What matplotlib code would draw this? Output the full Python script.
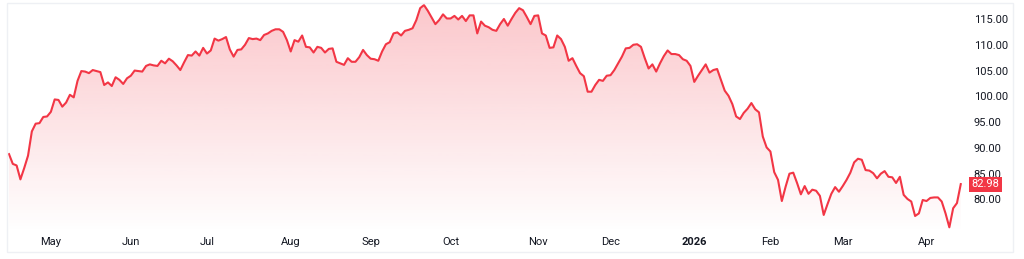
import numpy as np
import matplotlib
matplotlib.use("Agg")
import matplotlib.pyplot as plt
from matplotlib.patches import Polygon, Rectangle

# daily closes (Apr 2025 -> Apr 2026)
prices = [
    88.8, 86.9, 86.6, 83.9, 86.1, 88.5, 93.2, 94.7, 94.8, 96.0,
    96.1, 97.0, 99.4, 99.3, 98.0, 98.8, 100.3, 99.8, 103.0, 104.9,
    104.8, 104.5, 105.1, 104.9, 104.7, 102.2, 102.7, 102.0, 103.7, 103.2,
    102.4, 103.5, 104.0, 105.0, 104.9, 104.8, 105.9,
    106.2, 106.0, 105.9, 106.9, 106.4, 107.3, 106.8, 106.0, 105.1, 106.6,
    108.0, 107.9, 108.7, 107.9, 109.4, 108.3, 108.9, 111.2, 110.8, 111.1,
    111.5, 109.1, 107.7, 109.0, 109.1, 110.0, 111.3, 111.1, 111.2, 110.9,
    111.9, 112.2, 112.7, 113.0, 113.0, 112.5, 110.9, 108.7,
    110.9, 110.6, 111.8, 109.6, 109.5, 108.5, 109.6, 109.4, 108.5, 109.2,
    109.3, 106.7, 106.4, 106.1, 107.4, 106.7, 106.7, 107.6, 109.0, 108.0,
    107.3, 107.2, 106.9, 108.7, 110.1, 110.5, 112.2, 112.4, 111.8, 112.7,
    112.9, 113.2, 114.8, 117.1, 117.7, 116.6, 115.3, 114.0,
    114.8, 115.9, 115.1, 115.1, 115.6, 114.9, 115.6, 114.6, 115.7, 115.7,
    112.2, 114.5, 113.7, 113.4, 112.9, 112.7, 114.0, 115.0, 113.7, 115.0,
    116.2, 117.1, 116.7, 115.4, 114.0, 115.6, 115.7, 112.2, 111.8, 109.4,
    109.5, 111.8, 111.1, 109.6, 106.9, 107.4, 105.9, 104.5,
    103.9, 100.9, 100.9, 102.2, 103.2, 103.0, 104.0, 104.1, 105.1, 106.4,
    107.7, 109.3, 109.4, 110.0, 110.1, 109.6, 107.4, 105.4, 106.2, 104.8,
    106.4, 107.8, 108.9, 108.2, 108.2, 108.0, 107.2, 106.9, 105.9, 102.8,
    104.0, 105.1, 106.2, 104.6, 105.1, 105.3, 103.2, 101.1,
    100.1, 98.5, 96.1, 95.6, 96.8, 97.6, 98.7, 97.5, 96.9, 92.2,
    90.1, 89.3, 85.3, 83.8, 79.7, 82.5, 85.0, 85.2, 83.2, 81.0,
    82.6, 81.1, 81.9, 81.7, 80.7, 77.0, 79.1, 81.1, 82.4, 81.5,
    82.6, 83.8, 85.2, 87.2, 87.9, 87.7, 85.7, 85.6,
    85.1, 84.1, 85.0, 85.5, 84.4, 84.3, 83.2, 84.4, 80.9, 80.1,
    79.6, 76.8, 77.3, 79.9, 79.7, 80.3, 80.4, 80.4, 79.6, 77.3,
    74.6, 78.3, 79.3, 82.98,
]
month_labels = ["May", "Jun", "Jul", "Aug", "Sep", "Oct", "Nov", "Dec",
                "2026", "Feb", "Mar", "Apr"]
month_idx = [11, 32, 52, 74, 95, 116, 139, 158, 180, 200, 219, 241]
yticks = [80, 85, 90, 95, 100, 105, 110, 115]

red = "#F23645"
W, H = 1024, 259
plt.rcParams["font.family"] = ["Roboto", "DejaVu Sans"]

fig = plt.figure(figsize=(W / 100, H / 100), dpi=100)
ax = fig.add_axes([7 / W, 1 - 233 / H, (968 - 7) / W, (233 - 3) / H])
x = np.arange(len(prices))
x0, x1 = -0.525, 251.9
y0, y1 = 73.5, 118.1
ax.set_xlim(x0, x1)
ax.set_ylim(y0, y1)

# gradient fill under the line
grad = np.zeros((256, 1, 4))
grad[:, 0, 0] = 242 / 255
grad[:, 0, 1] = 54 / 255
grad[:, 0, 2] = 69 / 255
grad[:, 0, 3] = np.linspace(0.28, 0.0, 256)
im = ax.imshow(grad, extent=[x0, x1, y0, y1], aspect="auto", origin="upper", zorder=1)
verts = [(x[0], y0)] + list(zip(x, prices)) + [(x[-1], y0)]
clip = Polygon(verts, closed=True, facecolor="none", edgecolor="none")
ax.add_patch(clip)
im.set_clip_path(clip)

ax.plot(x, prices, color=red, lw=1.5, zorder=3)

for s in ax.spines.values():
    s.set_visible(False)
ax.yaxis.tick_right()
ax.set_yticks(yticks)
ax.set_yticklabels([f"{v:.2f}" for v in yticks])
ax.set_xticks(month_idx)
ax.set_xticklabels(month_labels)
ax.tick_params(axis="y", length=0, pad=4, labelsize=8, labelcolor="#131722")
ax.tick_params(axis="x", length=0, pad=3, labelsize=8, labelcolor="#131722")
for lab in ax.get_xticklabels():
    if lab.get_text() == "2026":
        lab.set_fontweight("bold")

ax.text(1.0183, prices[-1], f"{prices[-1]:.2f}", transform=ax.get_yaxis_transform(),
        ha="center", va="center", color="white", fontsize=8, clip_on=False,
        bbox=dict(boxstyle="square,pad=0.22", facecolor=red, edgecolor="none"))

fig.add_artist(Rectangle((7 / W, 1 - 252 / H), (1013 - 7) / W, (252 - 3) / H,
                         transform=fig.transFigure, fill=False,
                         edgecolor="#EEF0F4", lw=1))

fig.savefig("out.png", dpi=100)
